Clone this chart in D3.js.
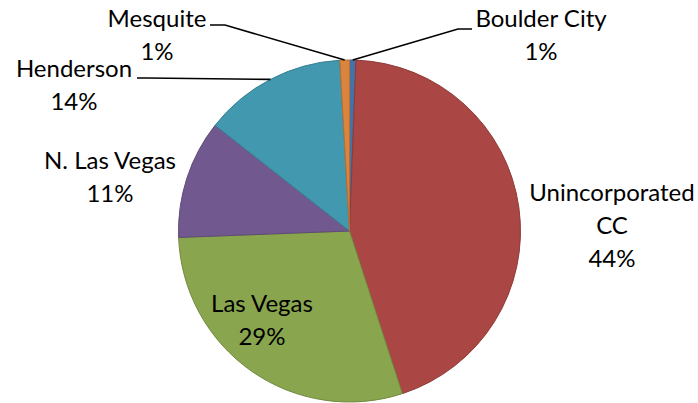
<!DOCTYPE html>
<html>
<head>
<meta charset="utf-8">
<script src="https://cdn.jsdelivr.net/npm/d3@7"></script>
<style>
  html, body { margin: 0; padding: 0; background: #fff; }
  svg { display: block; }
  text { font-family: Lato, 'Open Sans', sans-serif; fill: #000; }
</style>
</head>
<body>
<svg id="chart"></svg>
<script>
'use strict';
const CITIES = ['Boulder City', 'Unincorporated CC', 'Las Vegas', 'N. Las Vegas', 'Henderson', 'Mesquite'];
const SHARES = [0.6, 44.4, 29.4, 11.2, 13.5, 0.9];
const LABEL_LINES = [
  ['Boulder City'],
  ['Unincorporated', 'CC'],
  ['Las Vegas'],
  ['N. Las Vegas'],
  ['Henderson'],
  ['Mesquite'],
];
const COLORS = ['#4572A7', '#AA4643', '#89A54E', '#71588F', '#4198AF', '#DB843D'];

// label anchors (centre of first line) and leader lines, placed like the excel chart
const LABEL_POS = [
  { x: 541, y: 27, line: [472, 29, 458, 29] },
  { x: 612, y: 201 },
  { x: 262, y: 312 },
  { x: 110, y: 169 },
  { x: 74, y: 77, line: [137, 78, 147, 78] },
  { x: 157, y: 27, line: [210, 25, 225, 25] },
];

const width = 698, height = 403;
const cx = 349.5, cy = 231, radius = 171;
const LINE_H = 33;

const svg = d3.select('#chart').attr('width', width).attr('height', height);
const g = svg.append('g').attr('transform', `translate(${cx},${cy})`);

const data = CITIES.map((c, i) => ({ city: c, value: SHARES[i], idx: i }));
const pie = d3.pie().sort(null).value((d) => d.value);
const arcs = pie(data);
const arc = d3.arc().innerRadius(0).outerRadius(radius);

g.selectAll('path.slice')
  .data(arcs)
  .enter()
  .append('path')
  .attr('class', 'slice')
  .attr('d', arc)
  .attr('fill', (d) => COLORS[d.data.idx])
  .attr('stroke', (d) => d3.color(COLORS[d.data.idx]).darker(0.5))
  .attr('stroke-width', 1);

// leader lines
arcs.forEach((d) => {
  const lp = LABEL_POS[d.data.idx];
  if (!lp.line) return;
  const mid = (d.startAngle + d.endAngle) / 2;
  const px = cx + radius * Math.sin(mid);
  const py = cy - radius * Math.cos(mid);
  svg
    .append('polyline')
    .attr('points', `${lp.line[0]},${lp.line[1]} ${lp.line[2]},${lp.line[3]} ${px},${py}`)
    .attr('fill', 'none')
    .attr('stroke', '#000')
    .attr('stroke-width', 1.6);
});

// labels
arcs.forEach((d) => {
  const i = d.data.idx;
  const lp = LABEL_POS[i];
  const lines = LABEL_LINES[i].concat([Math.round(d.value) + '%']);
  const t = svg
    .append('text')
    .attr('text-anchor', 'middle')
    .attr('font-size', 24);
  lines.forEach((ln, k) => {
    t.append('tspan').attr('x', lp.x).attr('y', lp.y + k * LINE_H).text(ln);
  });
});
</script>
</body>
</html>
